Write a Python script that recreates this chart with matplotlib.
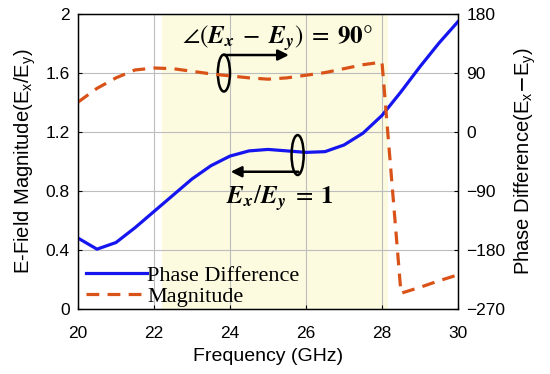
import matplotlib
matplotlib.use("Agg")
import matplotlib.pyplot as plt
from matplotlib.patches import Ellipse

plt.rcParams['font.family'] = ['Liberation Sans', 'DejaVu Sans']
plt.rcParams['axes.unicode_minus'] = True

# Data
freq_blue = [20, 20.5, 21, 21.5, 22, 22.5, 23, 23.5, 24, 24.5, 25, 25.5, 26,
             26.5, 27, 27.5, 28, 28.5, 29, 29.5, 30]
blue_vals = [0.48, 0.405, 0.45, 0.55, 0.66, 0.77, 0.88, 0.97, 1.035, 1.07, 1.08,
             1.07, 1.06, 1.065, 1.11, 1.19, 1.31, 1.47, 1.64, 1.80, 1.945]
freq_orange = [20, 20.5, 21, 21.5, 22, 22.5, 23, 23.5, 24, 24.5, 25, 25.5, 26,
               26.5, 27, 27.5, 28, 28.5, 29, 29.5, 30]
orange_vals = [45, 66, 82, 94, 97, 96, 92, 88, 85, 82, 80, 82, 86, 90, 96, 102,
               106, -246, -237, -227, -218]
xticks = [20, 22, 24, 26, 28, 30]
yticks_left = [0, 0.4, 0.8, 1.2, 1.6, 2]
ytick_left_labels = ['0', '0.4', '0.8', '1.2', '1.6', '2']
yticks_right = [-270, -180, -90, 0, 90, 180]
band = [22.2, 28.15]

fig = plt.figure(figsize=(5.5, 3.74), dpi=100)
ax = fig.add_axes([0.1418, 0.1738, 0.6909, 0.7901])
ax2 = ax.twinx()

ax.axvspan(band[0], band[1], color='#FCFBE0', zorder=0, lw=0)
ax.grid(True, color='#BDBDBD', lw=0.8, zorder=1)
ax.set_axisbelow(True)

l1, = ax.plot(freq_blue, blue_vals, color='#1515F0', lw=2.3, zorder=3,
              label='Phase Difference')
l2, = ax2.plot(freq_orange, orange_vals, color='#D95319', lw=2.3,
               dashes=(4, 2.6), label='Magnitude')

ax.set_xlim(20, 30)
ax.set_ylim(0, 2)
ax2.set_ylim(-270, 180)
ax.set_xticks(xticks)
ax.set_yticks(yticks_left)
ax.set_yticklabels(ytick_left_labels)
ax2.set_yticks(yticks_right)

for a in (ax, ax2):
    a.tick_params(direction='in', labelsize=12.5, length=3, width=0.8, pad=6)
    for s in a.spines.values():
        s.set_linewidth(0.9)
ax.tick_params(axis='x', pad=12)

ax.set_xlabel('Frequency (GHz)', fontsize=14, labelpad=5)
ax.set_ylabel(r'E-Field Magnitude(E$\mathregular{_x}$/E$\mathregular{_y}$)', fontsize=14.5, labelpad=5)
ax2.set_ylabel(r'Phase Difference(E$\mathregular{_x}$$-$E$\mathregular{_y}$)', fontsize=14.5, labelpad=5)

# annotations
ax.add_patch(Ellipse((23.84, 1.597), 0.32, 0.25, fill=False, ec='k', lw=1.8, zorder=5))
ax.annotate('', xy=(25.55, 1.719), xytext=(23.84, 1.719),
            arrowprops=dict(arrowstyle='-|>', lw=1.8, color='k', mutation_scale=16,
                            shrinkA=0, shrinkB=0), zorder=5)
ax.text(25.25, 1.834, r'$\angle\left(\mathbfit{E}_{\mathbfit{x}}\;-\;\mathbfit{E}_{\mathbfit{y}}\right)\;=\;\mathbf{90}\degree$',
        ha='center', va='center', fontsize=18, math_fontfamily='stix', zorder=6)

ax.add_patch(Ellipse((25.78, 1.042), 0.32, 0.27, fill=False, ec='k', lw=1.8, zorder=5))
ax.annotate('', xy=(24.02, 0.929), xytext=(25.8, 0.929),
            arrowprops=dict(arrowstyle='-|>', lw=1.8, color='k', mutation_scale=16,
                            shrinkA=0, shrinkB=0), zorder=5)
ax.text(25.32, 0.751, r'$\mathbfit{E}_{\mathbfit{x}}/\mathbfit{E}_{\mathbfit{y}}\;=\;\mathbf{1}$',
        ha='center', va='center', fontsize=18, math_fontfamily='stix', zorder=6)

leg = ax2.legend([l1, l2], ['Phase Difference', 'Magnitude'], loc='lower left',
                 bbox_to_anchor=(0.013, -0.003), frameon=False, handlelength=2.75,
                 handletextpad=0.0, borderaxespad=0.0, labelspacing=0.0,
                 borderpad=0.15, prop={'family': 'Liberation Serif', 'size': 16})

fig.savefig('out.png', dpi=100)
